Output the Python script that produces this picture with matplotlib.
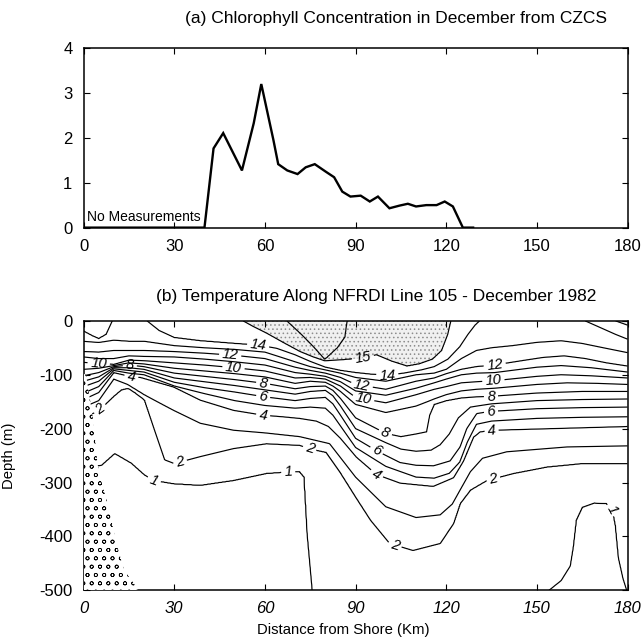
import numpy as np
import matplotlib
matplotlib.use("Agg")
import matplotlib.pyplot as plt
from matplotlib.patches import Polygon

plt.rcParams['font.family'] = ['Liberation Sans', 'DejaVu Sans']
plt.rcParams['axes.unicode_minus'] = False

# ---- (a) chlorophyll from CZCS
chl_km = [0, 40.0, 43.0, 46.2, 52.4, 56.3, 58.8, 62.8, 64.4, 67.4, 70.8, 73.5, 76.5,
          80.2, 82.9, 85.6, 88.3, 91.7, 94.7, 97.4, 101.2, 104.6, 107.3, 110.0,
          113.4, 116.8, 119.5, 122.2, 125.5, 128.9]
chl_val = [0, 0, 1.76, 2.10, 1.27, 2.32, 3.19, 1.95, 1.41, 1.27, 1.19, 1.34, 1.41,
           1.24, 1.12, 0.80, 0.69, 0.71, 0.58, 0.69, 0.43, 0.49, 0.53, 0.47,
           0.50, 0.50, 0.58, 0.47, 0, 0]

# ---- (b) isotherm depths (m) along the section
# values above 0 / below -500 stand for isotherms that lie outside the section
t17_x = [0, 180]
t17_d = [100, 100]
t16_x = [0, 60, 67.2, 72, 76, 79.8, 84, 86.5, 87.2, 95, 180]
t16_d = [30, 30, 0, -25, -48, -72, -50, -30, 0, 30, 30]
t15_x = [0, 45, 52.8, 56, 60.6, 66, 71.6, 76, 79.8, 86, 92.5, 96.9, 102, 107, 111,
         115.5, 118.5, 120.5, 121.5, 126, 170, 176, 180]
t15_d = [40, 25, 0, -10, -23, -40, -57, -67, -74, -72, -69, -63, -75, -84, -80,
         -71, -55, -25, 0, 20, 20, 0, -8]
t14_x = [0, 3, 5, 7.5, 9.5, 12, 15, 18, 21, 25, 30, 38.6, 50, 57.8, 63.9, 70, 74.9,
         80, 85, 90, 95, 100.5, 106, 111.8, 116, 120.6, 124.5, 127.2, 129.5, 131,
         135, 160, 166, 172, 176, 180]
t14_d = [-19, -28, -33, -25, 0, 8, 8, 6, 0, -18, -31, -37, -42, -45, -51, -63, -75,
         -86, -92, -96, -99, -101, -97, -91, -85, -71, -48, -25, -8, 0,
         10, 10, 0, -15, -25, -34]
t13_x = [0, 5, 10, 15, 20, 30, 40, 50, 60, 70, 75, 80, 85, 90, 100, 110, 116, 120,
         125, 130, 135, 142, 150, 158, 165, 172, 180]
t13_d = [-38, -40, -36, -38, -38, -46, -50, -53, -58, -76, -85, -91, -97, -105, -112,
         -100, -97, -90, -70, -55, -50, -46, -40, -37, -42, -50, -59]
t12_x = [0, 5, 10, 15, 20, 30, 40, 50, 60, 70, 75, 80, 85, 90, 100, 110, 116, 120,
         125, 130, 136, 145, 152, 159, 166, 173, 180]
t12_d = [-57, -58, -55, -55, -55, -57, -60, -64, -70, -86, -92, -97, -105, -118, -127,
         -112, -106, -98, -90, -85, -82, -74, -68, -65, -70, -78, -84]
t11_x = [0, 5, 10, 15, 20, 30, 40, 50, 60, 70, 75, 80, 85, 90, 100, 110, 116, 120,
         125, 130, 136, 150, 158, 168, 180]
t11_d = [-67, -70, -70, -65, -66, -67, -71, -76, -82, -96, -99, -103, -113, -130, -138,
         -125, -115, -108, -100, -97, -96, -86, -83, -87, -95]
t10_d = [-77, -79, -81, -73, -74, -78, -82, -87, -93, -106, -105, -108, -121, -142, -152,
         -137, -127, -122, -115, -113, -111, -103, -100, -102, -106]
t9_x = [0, 5, 10, 15, 20, 30, 40, 50, 60, 70, 75, 80, 82.5, 85, 90, 100, 110, 116,
        120, 125, 130, 136, 150, 160, 170, 180]
t9_d = [-90, -88, -83, -78, -80, -88, -93, -98, -104, -116, -112, -114, -121, -131, -155,
        -170, -158, -145, -137, -130, -127, -125, -118, -115, -116, -118]
t8_x = [0, 5, 10, 15, 20, 30, 40, 50, 60, 70, 75, 80, 82.5, 85, 90, 100, 105, 110,
        113.5, 114.5, 116, 120, 125, 130, 135, 150, 165, 180]
t8_d = [-102, -96, -85, -82, -85, -97, -103, -109, -116, -126, -122, -121, -129, -144,
        -180, -209, -215, -210, -206, -175, -155, -148, -143, -141, -140, -134, -131,
        -131]
t7_x = [0, 5, 10, 15, 20, 30, 40, 50, 60, 70, 75, 80, 82.5, 85, 90, 100, 105, 110,
        115, 118, 121, 124, 128, 135, 150, 165, 180]
t7_d = [-112, -104, -87, -87, -90, -106, -113, -120, -128, -136, -131, -129, -139, -158,
        -200, -226, -238, -242, -240, -230, -210, -180, -160, -154, -148, -146, -145]
t6_x = [0, 5, 10, 15, 20, 30, 40, 50, 60, 70, 75, 80, 82.5, 85, 90, 96.9, 104.7, 110,
        115.8, 121.3, 124.6, 126.8, 130.1, 134.5, 150, 165, 180]
t6_d = [-122, -112, -89, -92, -95, -114, -124, -132, -141, -148, -144, -142, -154, -175,
        -218, -241, -263, -268, -269, -260, -234, -200, -172, -168, -163, -161, -160]
t5_x = [0, 5, 10, 15, 20, 30, 40, 50, 60, 70, 75, 80, 82.5, 85, 90, 100, 110, 116,
        121, 124.5, 127, 130, 135, 150, 165, 180]
t5_d = [-134, -122, -92, -97, -100, -121, -135, -148, -157, -162, -160, -162, -175, -195,
        -235, -270, -290, -292, -283, -262, -225, -192, -186, -181, -179, -178]
t4_x = [0, 5, 10, 15.8, 18.9, 29.8, 38.6, 49.6, 59.4, 66, 71.5, 77, 81, 85, 90.3,
        96.9, 104.7, 115.7, 122.4, 125.7, 129, 131.2, 135, 154.5, 180]
t4_d = [-146, -133, -96, -103.5, -105, -122.5, -147, -166, -175, -178, -181, -186, -196,
        -218, -253, -285, -301, -307, -291, -260, -216, -206, -203, -200, -196]
t3_x = [0, 5, 10, 14.5, 20, 29.8, 38.6, 49.6, 60, 71.5, 81.4, 90, 100, 110, 118,
        122, 125, 128, 132, 140, 160, 180]
t3_d = [-160, -148, -108, -118, -137, -166, -190, -203, -208, -215, -228, -290,
        -345, -365, -360, -340, -310, -280, -255, -243, -234, -232]
t2_x = [0, 3, 5.5, 10, 12.5, 14.7, 17, 20.2, 23.5, 26.8, 30, 38.6, 49.6, 60.5,
        71.5, 74.8, 80.3, 84.7, 90.3, 95, 101.3, 109, 118, 122.4, 124.6, 128,
        133.5, 142.3, 153.4, 164.5, 180]
t2_d = [-178, -172, -164, -140, -128, -125, -133, -147, -203, -258, -265, -252,
        -237, -228, -231, -237, -244, -279, -329, -370, -413, -426, -413, -376,
        -339, -314, -296, -283, -271, -265, -265]
t1_x = [0, 5.9, 10.3, 15.8, 20.2, 23.3, 29.8, 38.6, 49.6, 60.5, 67.7, 71.5, 73, 74,
        75.5, 77, 150, 154, 158, 161, 162, 163, 165, 169, 173, 175, 176, 177,
        178.5, 180]
t1_d = [-270, -268, -246, -264, -286, -296, -302, -305, -296, -283, -280, -280,
        -290, -395, -490, -620, -620, -500, -482, -455, -420, -370, -346, -338,
        -339, -350, -380, -440, -478, -505]
t0_x = [0, 180]
t0_d = [-900, -900]

# area near shore with no data (drawn with circles)
shore_x = [0, 0.8, 3, 4.6, 5.5, 7.9, 11.2, 13.4, 16.7, 18, 0]
shore_d = [-98, -100, -178, -265, -290, -339, -420, -463, -488, -500, -500]

isotherms = [
    (0, t0_x, t0_d), (1, t1_x, t1_d), (2, t2_x, t2_d), (3, t3_x, t3_d),
    (4, t4_x, t4_d), (5, t5_x, t5_d), (6, t6_x, t6_d), (7, t7_x, t7_d),
    (8, t8_x, t8_d), (9, t9_x, t9_d), (10, t11_x, t10_d), (11, t11_x, t11_d),
    (12, t12_x, t12_d), (13, t13_x, t13_d), (14, t14_x, t14_d),
    (15, t15_x, t15_d), (16, t16_x, t16_d), (17, t17_x, t17_d),
]

# label positions (km, m) for the contour numbers
label_pos = {
    15: [(92.5, -69)],
    14: [(57.8, -44), (100.5, -101)],
    12: [(48.5, -64), (92, -122), (136, -81)],
    10: [(5, -79), (49.6, -87), (92.5, -146), (135.6, -111)],
    8: [(15.3, -82), (59.4, -116), (99.7, -209), (134.8, -140)],
    6: [(59.4, -141), (96.9, -241), (134.8, -168)],
    4: [(15.8, -103.5), (59.4, -175), (97, -284), (135, -203)],
    2: [(5.5, -164), (32, -265), (74.8, -237), (103, -416), (135.7, -295)],
    1: [(23.3, -296), (67.7, -280), (175.3, -348)],
}

# ---- temperature field from the isotherm depths
xg = np.linspace(0, 180, 721)
zg = np.linspace(-500, 0, 501)
levels = np.array([lv for lv, _, _ in isotherms], dtype=float)
D = np.array([np.interp(xg, xs, ds) for _, xs, ds in isotherms])
for k in range(1, len(D)):
    D[k] = np.maximum(D[k], D[k - 1] + 0.5)
T = np.empty((len(zg), len(xg)))
for j in range(len(xg)):
    T[:, j] = np.interp(zg, D[:, j], levels)

fig = plt.figure(figsize=(6.43, 6.43), dpi=100)

# ---------------- top panel
ax1 = fig.add_axes([0.130, 0.646, 0.846, 0.280])
ax1.plot(chl_km, chl_val, color='black', lw=1.7, solid_joinstyle='miter')
ax1.set_xlim(0, 180)
ax1.set_ylim(0, 4)
ax1.set_xticks(range(0, 181, 30))
ax1.set_yticks(range(0, 5))
ax1.tick_params(direction='in', top=True, right=True, length=4, width=0.8,
                labelsize=12, pad=8)
ax1.text(1.2, 0.07, 'No Measurements', fontsize=10, ha='left', va='bottom')
fig.text(396 / 643, 1 - 18 / 643, '(a) Chlorophyll Concentration in December from CZCS',
         ha='center', va='center', fontsize=12.5)

# ---------------- bottom panel
ax2 = fig.add_axes([0.130, 0.082, 0.846, 0.419])
with plt.rc_context({'hatch.color': '#8c8c8c', 'hatch.linewidth': 0.6}):
    ax2.contourf(xg, zg, T, levels=[15, 18], colors=['#f0f0f0'], hatches=['....'])

plain = [lv for lv in range(1, 17) if lv not in label_pos]
ax2.contour(xg, zg, T, levels=plain, colors='black', linewidths=0.85)
for lv, pts in label_pos.items():
    cs = ax2.contour(xg, zg, T, levels=[lv], colors='black', linewidths=0.85)
    txts = cs.clabel(fmt='%d', fontsize=10.5, manual=pts, inline=True,
                     inline_spacing=3)
    for t in txts:
        t.set_fontstyle('italic')

with plt.rc_context({'hatch.linewidth': 0.5}):
    shore = Polygon(np.column_stack([shore_x, shore_d]), closed=True,
                    facecolor='white', edgecolor='black', linewidth=0,
                    hatch='oo', zorder=3)
ax2.add_patch(shore)

ax2.set_xlim(0, 180)
ax2.set_ylim(-500, 0)
ax2.set_xticks(range(0, 181, 30))
ax2.set_yticks(range(-500, 1, 100))
ax2.tick_params(direction='in', top=True, right=True, length=4, width=0.8,
                labelsize=12, pad=8)
for lab in ax2.get_xticklabels():
    lab.set_fontstyle('italic')
ax2.set_ylabel('Depth (m)', fontsize=10.7)
ax2.yaxis.set_label_coords(-0.125, 0.5)
ax2.set_xlabel('Distance from Shore (Km)', fontsize=10.7)
ax2.xaxis.set_label_coords(0.477, -0.122)
fig.text(376.5 / 643, 1 - 296 / 643,
         '(b) Temperature Along NFRDI Line 105 - December 1982',
         ha='center', va='center', fontsize=12.5)

for ax in (ax1, ax2):
    for s in ax.spines.values():
        s.set_linewidth(1.1)

fig.savefig('out.png', dpi=100)
